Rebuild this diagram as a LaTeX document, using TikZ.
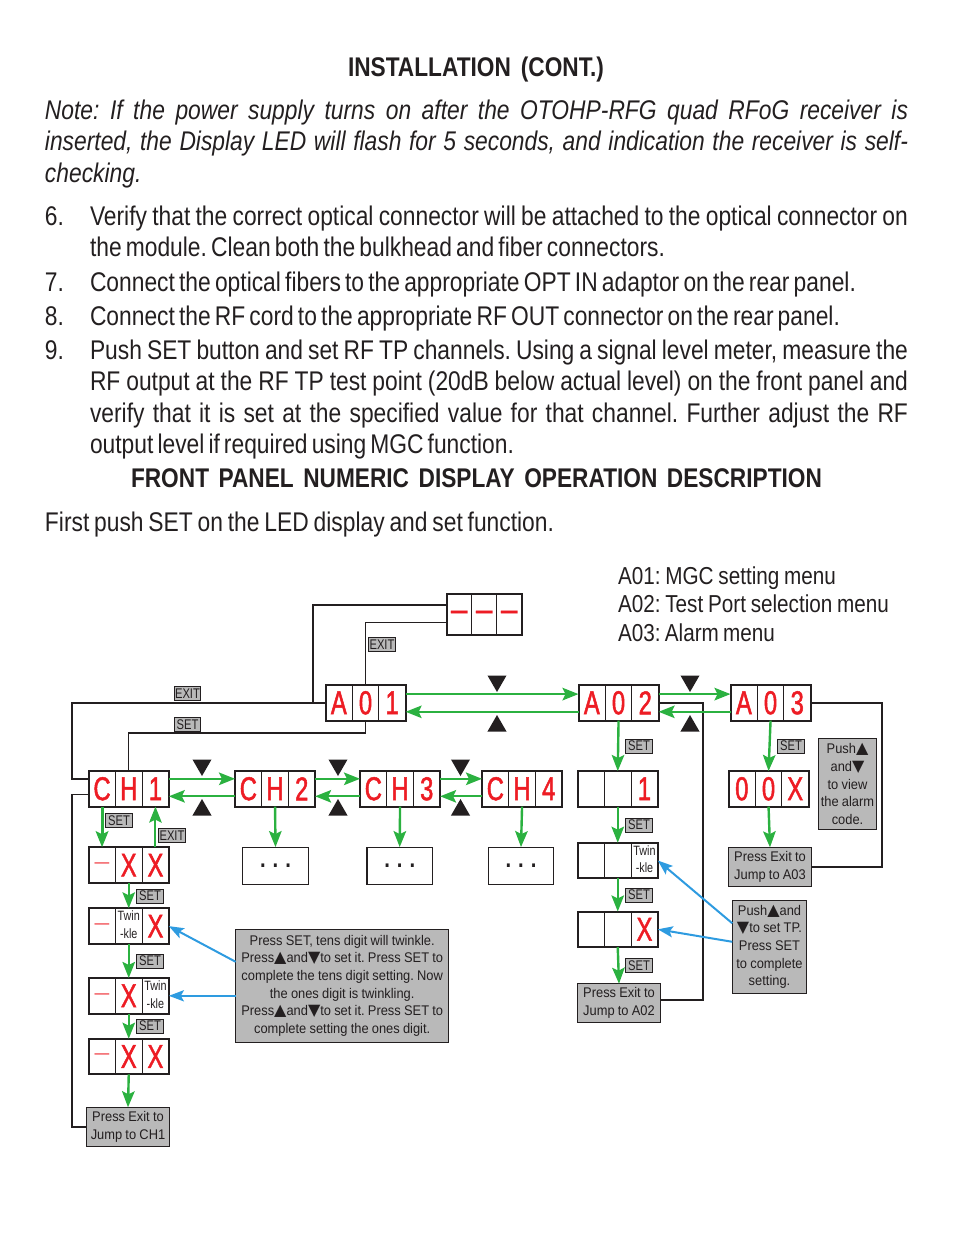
\documentclass[tikz,border=0pt]{standalone}
\usepackage{fontspec}
\usetikzlibrary{arrows.meta,positioning,fit,shapes.geometric}
\setmainfont[FakeStretch=0.845,WordSpace=0.55]{Liberation Sans}
\newfontfamily\headfamily[FakeStretch=0.84,WordSpace=0.7]{Liberation Sans}
\newfontfamily\segfamily[FakeStretch=0.72,FakeBold=1.5]{Liberation Sans}
\newfontfamily\notefamily[FakeStretch=0.92,WordSpace=0.9]{Liberation Sans}
\newfontfamily\tagfamily[FakeStretch=0.8]{Liberation Sans}
\newfontfamily\markfamily{DejaVu Sans}
\definecolor{segred}{HTML}{ED1C24}
\definecolor{flowgreen}{HTML}{2BB140}
\definecolor{pointblue}{HTML}{2E9BE0}
\definecolor{notegray}{HTML}{B9B9B9}
\definecolor{inkdark}{HTML}{231F20}
\hfuzz=20pt
\frenchspacing
\newcommand{\notefont}{\notefamily\color{inkdark}\fontsize{14}{17.7}\selectfont}
\newcommand{\upmark}{{\markfamily\fontsize{16}{16}\selectfont ▲}}
\newcommand{\downmark}{{\markfamily\fontsize{16}{16}\selectfont ▼}}
\newcommand{\twinkle}{{\tagfamily\color{inkdark}\fontsize{13.5}{17.5}\selectfont\begin{tabular}{@{}c@{}}Twin\\-kle\end{tabular}}}
\newcommand{\threedots}{\textbf{.\hspace{7pt}.\hspace{7pt}.}}
\newcommand{\thindash}{{\notefamily\fontsize{16}{16}\selectfont —}}
\newcommand{\segdash}{{\bfseries\fontsize{23}{23}\selectfont —}}
\newcommand{\bodyline}[5]{\node[bodytext] (#1) at (#2,#3) {\makebox[#4pt][s]{#5}};}
\newcommand{\panel}[7][]{
\node[cellbox,anchor=north west,#1] (#2a) at (#3,#4) {#5};
\node[cellbox,right=0pt of #2a,#1] (#2b) {#6};
\node[cellbox,right=0pt of #2b,#1] (#2c) {#7};
\node[panelbox,fit=(#2a)(#2c)] (#2) {};
}
\begin{document}
\begin{tikzpicture}[x=1pt,y=-1pt]
\tikzstyle{bodytext}=[anchor=base west,inner sep=0,outer sep=0,text=inkdark,font=\fontsize{27}{31}\selectfont];
\tikzstyle{headtext}=[bodytext,font=\headfamily\bfseries\fontsize{27}{31}\selectfont];
\tikzstyle{menutext}=[bodytext,font=\fontsize{24.5}{29}\selectfont];
\tikzstyle{cellbox}=[draw=inkdark,line width=1,inner sep=0,outer sep=0,minimum width=26.7pt,minimum height=35.6pt,text=segred,font=\segfamily\fontsize{33}{33}\selectfont];
\tikzstyle{widecell}=[minimum width=25pt,minimum height=41.6pt];
\tikzstyle{panelbox}=[draw=inkdark,line width=2,inner sep=0,outer sep=0];
\tikzstyle{dotsbox}=[draw=inkdark,line width=1.2,inner sep=0,minimum width=65.6pt,minimum height=36.6pt,text=inkdark,font=\fontsize{24}{24}\selectfont];
\tikzstyle{notebox}=[draw=inkdark,fill=notegray,line width=1,inner sep=0,outer sep=0,align=center,font=\notefont];
\tikzstyle{tagbox}=[draw=inkdark,fill=notegray,line width=0.8,inner sep=0,minimum width=26.5pt,minimum height=14pt,text=inkdark,font=\tagfamily\fontsize{14}{14}\selectfont];
\tikzstyle{upkey}=[fill=inkdark,regular polygon,regular polygon sides=3,inner sep=0,minimum size=22pt];
\tikzstyle{downkey}=[upkey,shape border rotate=180];
\tikzstyle{blackline}=[draw=inkdark,line width=2];
\tikzstyle{thinline}=[draw=inkdark,line width=1.3];
\tikzstyle{flowline}=[draw=flowgreen,line width=2.4,-{Stealth[length=16pt,width=12.5pt,inset=3pt]}];
\tikzstyle{pointline}=[draw=pointblue,line width=2,-{Stealth[length=15pt,width=11pt,inset=3pt]}];
\useasboundingbox (0,0) rectangle (954,1235);

% page text
\node[headtext] (title) at (348,76) {\makebox[256pt][s]{INSTALLATION (CONT.)}};
\bodyline{notea}{45}{119}{863}{\itshape Note: If the power supply turns on after the OTOHP-RFG quad RFoG receiver is}
\bodyline{noteb}{45}{150}{863}{\itshape inserted, the Display LED will flash for 5 seconds, and indication the receiver is self-}
\bodyline{notec}{45}{182}{96}{\itshape checking.}
\node[bodytext] (numsix) at (45,225) {6.};
\bodyline{sixa}{90}{225}{818}{Verify that the correct optical connector will be attached to the optical connector on}
\bodyline{sixb}{90}{256}{575}{the module. Clean both the bulkhead and fiber connectors.}
\node[bodytext] (numseven) at (45,291) {7.};
\bodyline{seven}{90}{291}{766}{Connect the optical fibers to the appropriate OPT IN adaptor on the rear panel.}
\node[bodytext] (numeight) at (45,325) {8.};
\bodyline{eight}{90}{325}{750}{Connect the RF cord to the appropriate RF OUT connector on the rear panel.}
\node[bodytext] (numnine) at (45,359) {9.};
\bodyline{ninea}{90}{359}{818}{Push SET button and set RF TP channels. Using a signal level meter, measure the}
\bodyline{nineb}{90}{390}{818}{RF output at the RF TP test point (20dB below actual level) on the front panel and}
\bodyline{ninec}{90}{422}{818}{verify that it is set at the specified value for that channel. Further adjust the RF}
\bodyline{nined}{90}{453}{424}{output level if required using MGC function.}
\node[headtext] (heading) at (131,487) {\makebox[691pt][s]{FRONT PANEL NUMERIC DISPLAY OPERATION DESCRIPTION}};
\bodyline{first}{45}{531}{509}{First push SET on the LED display and set function.}
\node[menutext] (menua) at (618,584) {\makebox[218pt][s]{A01: MGC setting menu}};
\node[menutext] (menub) at (618,612) {\makebox[271pt][s]{A02: Test Port selection menu}};
\node[menutext] (menuc) at (618,641) {\makebox[157pt][s]{A03: Alarm menu}};

% display panels
\panel[widecell]{dash}{446.7}{593.7}{\segdash}{\segdash}{\segdash}
\panel{a01}{325.5}{685}{A}{0}{1}
\panel{a02}{578.5}{685}{A}{0}{2}
\panel{a03}{730.5}{685}{A}{0}{3}
\panel{ch1}{88.7}{771}{C}{H}{1}
\panel{ch2}{235}{771}{C}{H}{2}
\panel{ch3}{360}{771}{C}{H}{3}
\panel{ch4}{482}{771}{C}{H}{4}
\panel{tpone}{577.7}{771}{}{}{1}
\panel{tptwin}{577.7}{842.7}{}{}{\twinkle}
\panel{tpset}{577.7}{911.5}{}{}{X}
\panel{alarm}{728.5}{771}{0}{0}{X}
\panel{rowa}{88.7}{847.3}{\thindash}{X}{X}
\panel{rowb}{88.7}{908.3}{\thindash}{\twinkle}{X}
\panel{rowc}{88.7}{978}{\thindash}{X}{\twinkle}
\panel{rowd}{88.7}{1038.7}{\thindash}{X}{X}

% dots and notes
\node[dotsbox] (dotsa) at (275.5,866) {\threedots};
\node[dotsbox] (dotsb) at (399.7,866) {\threedots};
\node[dotsbox] (dotsc) at (521,866) {\threedots};
\node[notebox,minimum width=82.6pt,minimum height=39pt] (exitch) at (128,1126.8) {Press Exit to\\Jump to CH1};
\node[notebox,minimum width=83.4pt,minimum height=38.6pt] (exitb) at (619,1003) {Press Exit to\\Jump to A02};
\node[notebox,minimum width=83.4pt,minimum height=39pt] (exitc) at (770,866.8) {Press Exit to\\Jump to A03};
\node[notebox,minimum width=213pt,minimum height=113pt] (setnote) at (342.2,985.8) {Press SET, tens digit will twinkle.\\Press\upmark and\downmark to set it. Press SET to\\complete the tens digit setting. Now\\the ones digit is twinkling.\\Press\upmark and\downmark to set it. Press SET to\\complete setting the ones digit.};
\node[notebox,minimum width=74.4pt,minimum height=93pt] (tpnote) at (769.5,946.8) {Push\upmark and\\\downmark to set TP.\\Press SET\\to complete\\setting.};
\node[notebox,minimum width=57.6pt,minimum height=90.6pt] (alarmnote) at (847.5,784) {Push\upmark\\and\downmark\\to view\\the alarm\\code.};

% up and down keys
\node[downkey] (downa) at (497,681) {};
\node[upkey] (upa) at (497,726) {};
\node[downkey] (downb) at (690,681) {};
\node[upkey] (upb) at (690,726) {};
\node[downkey] (downc) at (202,765) {};
\node[upkey] (upc) at (202,810) {};
\node[downkey] (downd) at (338,765) {};
\node[upkey] (upd) at (338,810) {};
\node[downkey] (downe) at (460.5,765) {};
\node[upkey] (upe) at (460.5,810) {};

% black lines
\draw[blackline] (a01.west) -- ++(-253.5,0) |- ([yshift=10pt]ch1.west);
\draw[blackline] ([xshift=-12.5pt]a01.west) |- ([yshift=10pt]dash.west);
\draw[thinline] (a01b.north) |- ([yshift=-8pt]dash.west);
\draw[thinline] (a01b.south) -- ++(0,12.3) -| (ch1b.north);
\draw[blackline,line width=1.5] ([yshift=-5.5pt]ch1.west) -- ++(-16.5,0) |- (exitch.west);
\draw[blackline] ([yshift=3pt]exitb.east) -- ++(42.3,0) |- (a02.east);
\draw[blackline] (a03.east) -- ++(71.2,0) |- (exitc.east);

% green arrows
\draw[flowline] ([yshift=8.7pt]a01.east) -- ([yshift=8.7pt]a02.west);
\draw[flowline,line width=2] ([yshift=-9pt]a02.west) -- ([yshift=-9pt]a01.east);
\draw[flowline] ([yshift=8.7pt]a02.east) -- ([yshift=8.7pt]a03.west);
\draw[flowline,line width=2] ([yshift=-9pt]a03.west) -- ([yshift=-9pt]a02.east);
\draw[flowline] ([yshift=10pt]ch1.east) -- ([yshift=10pt]ch2.west);
\draw[flowline,line width=2] ([yshift=-7.5pt]ch2.west) -- ([yshift=-7.5pt]ch1.east);
\draw[flowline] ([yshift=10pt]ch2.east) -- ([yshift=10pt]ch3.west);
\draw[flowline,line width=2] ([yshift=-7.5pt]ch3.west) -- ([yshift=-7.5pt]ch2.east);
\draw[flowline] ([yshift=10pt]ch3.east) -- ([yshift=10pt]ch4.west);
\draw[flowline,line width=2] ([yshift=-7.5pt]ch4.west) -- ([yshift=-7.5pt]ch3.east);
\draw[flowline,line width=3] (ch1a.south) -- (rowaa.north);
\draw[flowline,line width=2] (rowac.north) -- (ch1c.south);
\draw[flowline] (rowa.south) -- (rowb.north);
\draw[flowline] (rowb.south) -- (rowc.north);
\draw[flowline] (rowc.south) -- (rowd.north);
\draw[flowline] (rowd.south) -- (exitch.north);
\draw[flowline] (ch2b.south) -- (dotsa.north);
\draw[flowline] (ch3b.south) -- (dotsb.north);
\draw[flowline] (ch4b.south) -- (dotsc.north);
\draw[flowline] (a02b.south) -- (tpone.north);
\draw[flowline] (tpone.south) -- (tptwin.north);
\draw[flowline] (tptwin.south) -- (tpset.north);
\draw[flowline] (tpset.south) -- (exitb.north);
\draw[flowline] (a03b.south) -- (alarm.north);
\draw[flowline] (alarm.south) -- (exitc.north);

% blue arrows
\draw[pointline] ([yshift=24pt]setnote.west) -- (rowb.east);
\draw[pointline,line width=2.6] (setnote.west |- rowc.east) -- (rowc.east);
\draw[pointline] ([yshift=23.5pt]tpnote.west) -- (tptwin.east);
\draw[pointline] ([yshift=5pt]tpnote.west) -- (tpset.east);

% SET and EXIT tags
\node[tagbox] (tagexita) at (187.5,693.5) {EXIT};
\node[tagbox] (tagseta) at (187.5,724.5) {SET};
\node[tagbox] (tagexitb) at (382,644.3) {EXIT};
\node[tagbox] (tagsetb) at (119,820.7) {SET};
\node[tagbox] (tagexitc) at (172,835.5) {EXIT};
\node[tagbox] (tagsetc) at (150,896) {SET};
\node[tagbox] (tagsetd) at (150,961) {SET};
\node[tagbox] (tagsete) at (150,1026) {SET};
\node[tagbox] (tagsetf) at (639,746) {SET};
\node[tagbox] (tagsetg) at (639,825) {SET};
\node[tagbox] (tagseth) at (639,895) {SET};
\node[tagbox] (tagseti) at (639,965.5) {SET};
\node[tagbox] (tagsetj) at (791,746) {SET};
\end{tikzpicture}
\end{document}
